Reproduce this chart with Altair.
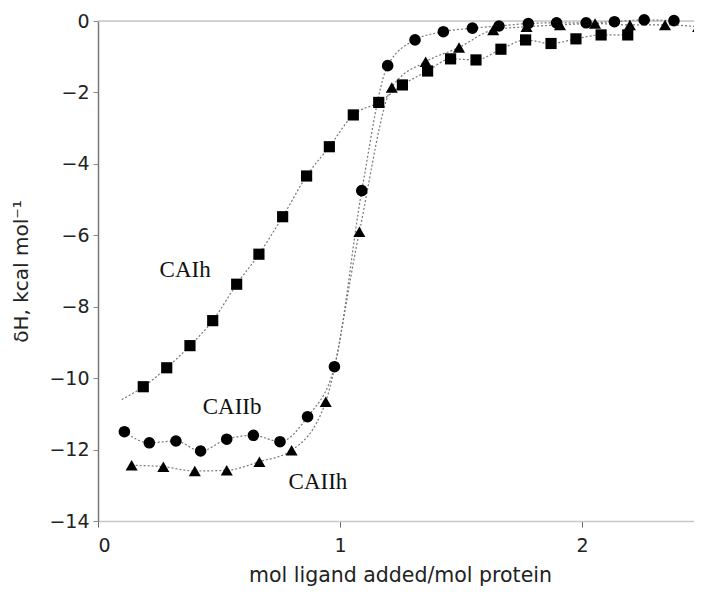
import altair as alt
import pandas as pd

# CAIh (squares)
caih_x = [0.187, 0.284, 0.380, 0.474, 0.573, 0.665, 0.763, 0.862, 0.956, 1.055, 1.160, 1.258,
          1.362, 1.457, 1.562, 1.665, 1.767, 1.872, 1.975, 2.079, 2.189]
caih_y = [-10.24, -9.71, -9.09, -8.39, -7.37, -6.53, -5.48, -4.34, -3.52, -2.63, -2.28, -1.79,
          -1.40, -1.06, -1.09, -0.79, -0.53, -0.63, -0.50, -0.39, -0.39]
# CAIIb (circles)
caiib_x = [0.109, 0.212, 0.322, 0.424, 0.532, 0.642, 0.752, 0.866, 0.977, 1.090, 1.197, 1.310,
           1.427, 1.547, 1.657, 1.778, 1.895, 2.017, 2.134, 2.257, 2.380]
caiib_y = [-11.50, -11.81, -11.76, -12.04, -11.71, -11.60, -11.78, -11.08, -9.68, -4.75, -1.25, -0.53,
           -0.30, -0.20, -0.14, -0.07, -0.05, -0.05, -0.02, 0.03, 0.01]
# CAIIh (triangles)
caiih_x = [0.139, 0.270, 0.400, 0.532, 0.667, 0.800, 0.941, 1.080, 1.214, 1.354, 1.492, 1.633,
           1.771, 1.909, 2.054, 2.198, 2.343, 2.480]
caiih_y = [-12.44, -12.48, -12.60, -12.58, -12.34, -12.02, -10.66, -5.90, -1.86, -1.14, -0.74, -0.25,
           -0.16, -0.11, -0.07, -0.11, -0.11, -0.16]

# start of the CAIh fitted curve (before the first point)
caih_fit_start_x = [0.098]
caih_fit_start_y = [-10.60]

series_names = ["CAIh", "CAIIb", "CAIIh"]
label_x = [0.36, 0.554, 0.909]
label_y = [-6.97, -10.81, -12.91]

x_ticks = [0, 1, 2]
y_ticks = [0, -2, -4, -6, -8, -10, -12, -14]

rows = []
for n, xs, ys in [("CAIh", caih_x, caih_y), ("CAIIb", caiib_x, caiib_y), ("CAIIh", caiih_x, caiih_y)]:
    for a, b in zip(xs, ys):
        rows.append({"series": n, "x": a, "y": b})
pts = pd.DataFrame(rows)

fit_rows = []
for n, xs, ys in [("CAIh", caih_fit_start_x + caih_x, caih_fit_start_y + caih_y),
                  ("CAIIb", caiib_x, caiib_y), ("CAIIh", caiih_x, caiih_y)]:
    for a, b in zip(xs, ys):
        fit_rows.append({"series": n, "x": a, "y": b})
fit = pd.DataFrame(fit_rows)

labels = pd.DataFrame({"name": series_names, "x": label_x, "y": label_y})

PLOT_W = 596
xscale = alt.Scale(domain=[0, PLOT_W / 242.0], nice=False, zero=False)
yscale = alt.Scale(domain=[-14, 0], nice=False, zero=False)

FONT = "DejaVu Sans"
xaxis = alt.Axis(values=x_ticks, format="d", title="mol ligand added/mol protein",
                 grid=False, domainColor="#c8c8c8", domainWidth=1.5, tickColor="#666",
                 tickSize=6, labelPadding=9, labelFontSize=19, titleFontSize=20.5,
                 labelFont=FONT, titleFont=FONT, titleFontWeight="normal",
                 labelColor="#222", titleColor="#222", titleX=302, titleY=60,
                 titleBaseline="alphabetic")
yaxis = alt.Axis(values=y_ticks, format="d", title="δH, kcal mol⁻¹",
                 grid=False, domainColor="#777", domainWidth=1.5, tickColor="#888",
                 tickSize=5, labelPadding=4, labelFontSize=19, titleFontSize=20,
                 labelFont=FONT, titleFont=FONT, titleFontWeight="normal",
                 labelColor="#222", titleColor="#222", titleX=-77, titleY=250,
                 titleBaseline="middle", titleAngle=-90)

shape_scale = alt.Scale(domain=series_names, range=["square", "circle", "triangle-up"])
size_scale = alt.Scale(domain=series_names, range=[125, 145, 175])

lines = alt.Chart(fit).mark_line(color="#777", strokeDash=[2, 2], strokeWidth=1.2,
                                 interpolate="monotone").encode(
    x=alt.X("x:Q", scale=xscale, axis=xaxis),
    y=alt.Y("y:Q", scale=yscale, axis=yaxis),
    detail="series:N",
)

points = alt.Chart(pts).mark_point(filled=True, color="black", opacity=1).encode(
    x=alt.X("x:Q", scale=xscale),
    y=alt.Y("y:Q", scale=yscale),
    shape=alt.Shape("series:N", scale=shape_scale, legend=None),
    size=alt.Size("series:N", scale=size_scale, legend=None),
)

toprule = alt.Chart(pd.DataFrame({"y": [0]})).mark_rule(color="#c8c8c8", strokeWidth=1.5).encode(
    y=alt.Y("y:Q", scale=yscale)
)

text = alt.Chart(labels).mark_text(font="Liberation Serif", fontSize=23, color="#111").encode(
    x=alt.X("x:Q", scale=xscale),
    y=alt.Y("y:Q", scale=yscale),
    text="name:N",
)

chart = alt.layer(toprule, lines, points, text).properties(
    width=PLOT_W, height=500,
    autosize=alt.AutoSizeParams(type="none"),
    padding={"left": 90, "top": 13, "right": 0, "bottom": 66},
).configure_view(stroke=None).configure(background="white")

chart.save("out.html", embed_options={"renderer": "svg", "actions": False})
